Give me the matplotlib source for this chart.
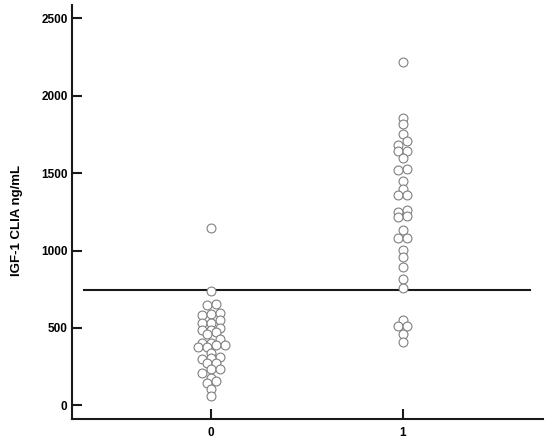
import numpy as np
import matplotlib
matplotlib.use("Agg")
import matplotlib.pyplot as plt

# IGF-1 values (ng/mL)
group_labels = ["0", "1"]
group0 = [1145, 740, 650, 658, 582, 590, 598, 534, 534, 551, 490, 490, 501,
          476, 458, 430, 404, 404, 378, 378, 393, 393, 336, 310, 299, 303,
          271, 271, 233, 235, 211, 178, 146, 156, 105, 62]
group1 = [2220, 1855, 1815, 1755, 1710, 1685, 1640, 1640, 1595, 1530, 1520,
          1450, 1400, 1362, 1362, 1265, 1250, 1225, 1215, 1130, 1082, 1082,
          1005, 960, 895, 815, 755, 550, 515, 515, 460, 410]
cutoff = 745
y_ticks = [0, 500, 1000, 1500, 2000, 2500]

plt.rcParams['font.family'] = ['Liberation Sans', 'DejaVu Sans']


def dot_offsets(values, bin_width, step):
    """values in the same bin are spread side by side, centred on the group"""
    values = np.asarray(values, dtype=float)
    offsets = np.zeros(len(values))
    bins = np.floor(values / bin_width).astype(int)
    for b in np.unique(bins):
        idx = np.where(bins == b)[0]
        idx = idx[np.argsort(values[idx], kind="stable")]
        n = len(idx)
        for i, j in enumerate(idx):
            offsets[j] = (i - (n - 1) / 2) * step
    return offsets


fig = plt.figure(figsize=(5.5, 4.48), dpi=100)
ax = fig.add_axes([0.1304, 0.0647, 0.8564, 0.9241])
ax.set_xlim(-0.727, 1.730)
ax.set_ylim(-88, 2586)

# horizontal spacing of one dot (~9 px) in data units
px_per_x = ax.transData.transform((1, 0))[0] - ax.transData.transform((0, 0))[0]
step = 9.0 / px_per_x

for pos, vals in enumerate([group0, group1]):
    xs = pos + dot_offsets(vals, 40, step)
    ax.plot(xs, vals, linestyle="none", marker="o", markersize=6.4,
            markerfacecolor="white", markeredgecolor="#808080",
            markeredgewidth=0.8, zorder=3)

ax.plot([-0.662, 1.664], [cutoff, cutoff], color="#1a1a1a", lw=1.5, zorder=2)

ax.spines['top'].set_visible(False)
ax.spines['right'].set_visible(False)
for s in ['left', 'bottom']:
    ax.spines[s].set_linewidth(1.5)
    ax.spines[s].set_color("#1a1a1a")

ax.set_xticks([0, 1])
ax.set_xticklabels(group_labels)
ax.set_yticks(y_ticks)
ax.tick_params(axis='both', direction='in', length=7, width=1.5,
               color="#1a1a1a", labelsize=8.5)
ax.tick_params(axis='y', pad=3)
ax.tick_params(axis='x', pad=6)
for lab in ax.get_xticklabels() + ax.get_yticklabels():
    lab.set_fontweight('bold')

ax.set_ylabel("IGF-1 CLIA ng/mL", fontsize=9.5, fontweight='bold')
ax.yaxis.set_label_coords(-0.103, 0.48)

fig.savefig("out.png", dpi=100)
